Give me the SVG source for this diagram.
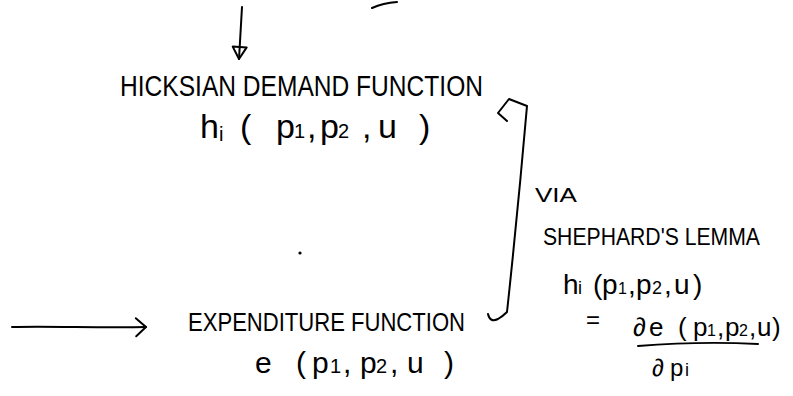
<svg xmlns="http://www.w3.org/2000/svg" width="793" height="396" viewBox="0 0 793 396">
<style>
text{font-family:"Liberation Sans","DejaVu Sans",sans-serif;fill:#000}
.ink{fill:none;stroke:#000;stroke-width:2;stroke-linecap:round;stroke-linejoin:round}
.sub{font-size:20px}
</style>
<defs>
<marker id="tri" viewBox="0 0 16 18" refX="14" refY="9" markerWidth="16" markerHeight="18" markerUnits="userSpaceOnUse" orient="auto">
<path d="M2,2 L14,9 L2,16 Z" fill="none" stroke="#000" stroke-width="2" stroke-linejoin="round"/>
</marker>
<marker id="chev" viewBox="0 0 14 22" refX="12" refY="11" markerWidth="14" markerHeight="22" markerUnits="userSpaceOnUse" orient="auto">
<path d="M2,2 L12,11 L2,20" fill="none" stroke="#000" stroke-width="2" stroke-linecap="round" stroke-linejoin="round"/>
</marker>
</defs>
<rect width="793" height="396" fill="#fff"/>

<g id="connectors">
<path class="ink" d="M242 7 L239 59" marker-end="url(#tri)"/>
<path class="ink" d="M12 327 C50 326 100 328 146 327" marker-end="url(#chev)"/>
<path class="ink" d="M488 314 Q490 323 498 319 Q503 316 507 312 Q518 210 527 106 L509 99 L498 113 L507 121"/>
<path class="ink" d="M372 8 Q383 3 397 2"/>
</g>

<circle cx="300" cy="253" r="1.6" fill="#000"/>

<g id="hicksian">
<text x="120" y="96" font-size="30" textLength="363" lengthAdjust="spacingAndGlyphs">HICKSIAN DEMAND FUNCTION</text>
<text y="138" font-size="34"><tspan x="200">h</tspan><tspan x="219" dy="3" class="sub">i</tspan><tspan x="240" dy="-3">(</tspan><tspan x="276">p</tspan><tspan x="294" class="sub">1</tspan><tspan x="307">,</tspan><tspan x="320">p</tspan><tspan x="338" class="sub">2</tspan><tspan x="362">,</tspan><tspan x="378">u</tspan><tspan x="419">)</tspan></text>
</g>

<g id="expenditure">
<text x="188" y="331" font-size="25" textLength="277" lengthAdjust="spacingAndGlyphs">EXPENDITURE FUNCTION</text>
<text y="373" font-size="30"><tspan x="255">e</tspan><tspan x="296">(</tspan><tspan x="312">p</tspan><tspan x="330" class="sub">1</tspan><tspan x="343">,</tspan><tspan x="360">p</tspan><tspan x="376" class="sub">2</tspan><tspan x="390">,</tspan><tspan x="407">u</tspan><tspan x="444">)</tspan></text>
</g>

<g id="shephard">
<text x="535" y="202" font-size="21" textLength="42" lengthAdjust="spacingAndGlyphs">VIA</text>
<text x="543" y="245" font-size="24" textLength="217" lengthAdjust="spacingAndGlyphs">SHEPHARD'S LEMMA</text>
<text y="294" font-size="28"><tspan x="563">h</tspan><tspan x="578" font-size="18">i</tspan><tspan x="593">(</tspan><tspan x="602">p</tspan><tspan x="618" font-size="16">1</tspan><tspan x="628">,</tspan><tspan x="636">p</tspan><tspan x="652" font-size="18">2</tspan><tspan x="664">,</tspan><tspan x="674">u</tspan><tspan x="693">)</tspan></text>
<text x="586" y="328" font-size="24">=</text>
<text y="336" font-size="26"><tspan x="633">∂</tspan><tspan x="649">e</tspan><tspan x="678">(</tspan><tspan x="693">p</tspan><tspan x="707" font-size="16">1</tspan><tspan x="717">,</tspan><tspan x="725">p</tspan><tspan x="739" font-size="16">2</tspan><tspan x="749">,</tspan><tspan x="757">u</tspan><tspan x="772">)</tspan></text>
<path class="ink" d="M638 346 Q700 341 758 344"/>
<text y="376" font-size="24"><tspan x="652">∂</tspan><tspan x="670">p</tspan><tspan x="685" font-size="18">i</tspan></text>
</g>
</svg>
